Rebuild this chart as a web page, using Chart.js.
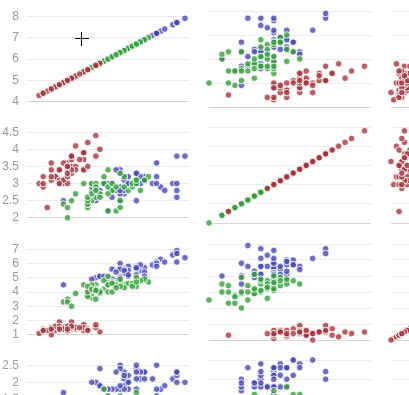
<!DOCTYPE html>
<html><head><meta charset="utf-8">
<script src="https://cdn.jsdelivr.net/npm/chart.js@4.4.1/dist/chart.umd.min.js"></script>
<style>
html,body{margin:0;padding:0;background:#fff;overflow:hidden;width:409px;height:395px;position:relative}
canvas{position:absolute}
.cur{position:absolute;background:#000}
</style></head><body>
<script>
// Iris measurements, by species
const setosaSepalLength=[5.1,4.9,4.7,4.6,5.0,5.4,4.6,5.0,4.4,4.9,5.4,4.8,4.8,4.3,5.8,5.7,5.4,5.1,5.7,5.1,5.4,5.1,4.6,5.1,4.8,5.0,5.0,5.2,5.2,4.7,4.8,5.4,5.2,5.5,4.9,5.0,5.5,4.9,4.4,5.1,5.0,4.5,4.4,5.0,5.1,4.8,5.1,4.6,5.3,5.0];
const setosaSepalWidth=[3.5,3.0,3.2,3.1,3.6,3.9,3.4,3.4,2.9,3.1,3.7,3.4,3.0,3.0,4.0,4.4,3.9,3.5,3.8,3.8,3.4,3.7,3.6,3.3,3.4,3.0,3.4,3.5,3.4,3.2,3.1,3.4,4.1,4.2,3.1,3.2,3.5,3.6,3.0,3.4,3.5,2.3,3.2,3.5,3.8,3.0,3.8,3.2,3.7,3.3];
const setosaPetalLength=[1.4,1.4,1.3,1.5,1.4,1.7,1.4,1.5,1.4,1.5,1.5,1.6,1.4,1.1,1.2,1.5,1.3,1.4,1.7,1.5,1.7,1.5,1.0,1.7,1.9,1.6,1.6,1.5,1.4,1.6,1.6,1.5,1.5,1.4,1.5,1.2,1.3,1.4,1.3,1.5,1.3,1.3,1.3,1.6,1.9,1.4,1.6,1.4,1.5,1.4];
const setosaPetalWidth=[0.2,0.2,0.2,0.2,0.2,0.4,0.3,0.2,0.2,0.1,0.2,0.2,0.1,0.1,0.2,0.4,0.4,0.3,0.3,0.3,0.2,0.4,0.2,0.5,0.2,0.2,0.4,0.2,0.2,0.2,0.2,0.4,0.1,0.2,0.2,0.2,0.2,0.1,0.2,0.2,0.3,0.3,0.2,0.6,0.4,0.3,0.2,0.2,0.2,0.2];
const versicolorSepalLength=[7.0,6.4,6.9,5.5,6.5,5.7,6.3,4.9,6.6,5.2,5.0,5.9,6.0,6.1,5.6,6.7,5.6,5.8,6.2,5.6,5.9,6.1,6.3,6.1,6.4,6.6,6.8,6.7,6.0,5.7,5.5,5.5,5.8,6.0,5.4,6.0,6.7,6.3,5.6,5.5,5.5,6.1,5.8,5.0,5.6,5.7,5.7,6.2,5.1,5.7];
const versicolorSepalWidth=[3.2,3.2,3.1,2.3,2.8,2.8,3.3,2.4,2.9,2.7,2.0,3.0,2.2,2.9,2.9,3.1,3.0,2.7,2.2,2.5,3.2,2.8,2.5,2.8,2.9,3.0,2.8,3.0,2.9,2.6,2.4,2.4,2.7,2.7,3.0,3.4,3.1,2.3,3.0,2.5,2.6,3.0,2.6,2.3,2.7,3.0,2.9,2.9,2.5,2.8];
const versicolorPetalLength=[4.7,4.5,4.9,4.0,4.6,4.5,4.7,3.3,4.6,3.9,3.5,4.2,4.0,4.7,3.6,4.4,4.5,4.1,4.5,3.9,4.8,4.0,4.9,4.7,4.3,4.4,4.8,5.0,4.5,3.5,3.8,3.7,3.9,5.1,4.5,4.5,4.7,4.4,4.1,4.0,4.4,4.6,4.0,3.3,4.2,4.2,4.2,4.3,3.0,4.1];
const versicolorPetalWidth=[1.4,1.5,1.5,1.3,1.5,1.3,1.6,1.0,1.3,1.4,1.0,1.5,1.0,1.4,1.3,1.4,1.5,1.0,1.5,1.1,1.8,1.3,1.5,1.2,1.3,1.4,1.4,1.7,1.5,1.0,1.1,1.0,1.2,1.6,1.5,1.6,1.5,1.3,1.3,1.3,1.2,1.4,1.2,1.0,1.3,1.2,1.3,1.3,1.1,1.3];
const virginicaSepalLength=[6.3,5.8,7.1,6.3,6.5,7.6,4.9,7.3,6.7,7.2,6.5,6.4,6.8,5.7,5.8,6.4,6.5,7.7,7.7,6.0,6.9,5.6,7.7,6.3,6.7,7.2,6.2,6.1,6.4,7.2,7.4,7.9,6.4,6.3,6.1,7.7,6.3,6.4,6.0,6.9,6.7,6.9,5.8,6.8,6.7,6.7,6.3,6.5,6.2,5.9];
const virginicaSepalWidth=[3.3,2.7,3.0,2.9,3.0,3.0,2.5,2.9,2.5,3.6,3.2,2.7,3.0,2.5,2.8,3.2,3.0,3.8,2.6,2.2,3.2,2.8,2.8,2.7,3.3,3.2,2.8,3.0,2.8,3.0,2.8,3.8,2.8,2.8,2.6,3.0,3.4,3.1,3.0,3.1,3.1,3.1,2.7,3.2,3.3,3.0,2.5,3.0,3.4,3.0];
const virginicaPetalLength=[6.0,5.1,5.9,5.6,5.8,6.6,4.5,6.3,5.8,6.1,5.1,5.3,5.5,5.0,5.1,5.3,5.5,6.7,6.9,5.0,5.7,4.9,6.7,4.9,5.7,6.0,4.8,4.9,5.6,5.8,6.1,6.4,5.6,5.1,5.6,6.1,5.6,5.5,4.8,5.4,5.6,5.1,5.1,5.9,5.7,5.2,5.0,5.2,5.4,5.1];
const virginicaPetalWidth=[2.5,1.9,2.1,1.8,2.2,2.1,1.7,1.8,1.8,2.5,2.0,1.9,2.1,2.0,2.4,2.3,1.8,2.2,2.3,1.5,2.3,2.0,2.0,1.8,2.1,1.8,1.8,1.8,2.1,1.6,1.9,2.0,2.2,1.5,1.4,2.3,2.4,1.8,1.8,2.1,2.4,2.3,1.9,2.3,2.5,2.3,1.9,2.0,2.3,1.8];

const speciesNames=["setosa","versicolor","virginica"];
const variableNames=["sepal length","sepal width","petal length","petal width"];
// nice axis domains and tick steps per variable
const axisMin=[4,2,1,0];
const axisMax=[8,4.5,7,2.5];
const axisStep=[1,0.5,1,0.5];

const speciesData=[
  [setosaSepalLength,setosaSepalWidth,setosaPetalLength,setosaPetalWidth],
  [versicolorSepalLength,versicolorSepalWidth,versicolorPetalLength,versicolorPetalWidth],
  [virginicaSepalLength,virginicaSepalWidth,virginicaPetalLength,virginicaPetalWidth]
];
const speciesColors=['rgba(170,50,60,0.8)','rgba(50,160,55,0.8)','rgba(70,70,185,0.8)'];

// layout
const colLeft=[27,209,391], cellW=162;
const rowTop=[11,127,244,360], cellH=96;
const M=10;

function makeCell(row,col){
  const cv=document.createElement('canvas');
  const leftPad = col===0 ? 0 : M;
  const x0 = col===0 ? 0 : colLeft[col]-M;
  const w = (col===0 ? colLeft[0] : M) + cellW + M;
  const h = M + cellH + M;
  cv.width=w; cv.height=h;
  cv.style.left=x0+'px'; cv.style.top=(rowTop[row]-M)+'px';
  cv.style.width=w+'px'; cv.style.height=h+'px';
  document.body.appendChild(cv);
  const datasets=speciesData.map((d,s)=>({
    label:speciesNames[s],
    data:d[col].map((v,i)=>({x:v,y:d[row][i]})),
    backgroundColor:speciesColors[s],
    borderColor:'rgba(255,255,255,0.9)',
    borderWidth:1,
    pointRadius:3.3,
    clip:false
  }));
  const yMin=axisMin[row];
  new Chart(cv,{
    type:'scatter',
    data:{datasets},
    options:{
      responsive:false, animation:false, devicePixelRatio:1, events:[],
      layout:{padding:{left:leftPad,right:M,top:M,bottom:M}},
      plugins:{legend:{display:false},tooltip:{enabled:false}},
      scales:{
        x:{display:false,min:axisMin[col],max:axisMax[col]},
        y:{
          min:axisMin[row],max:axisMax[row],
          border:{display:false},
          grid:{drawTicks:false,lineWidth:1,
            color:(c)=> (c.tick && Math.abs(c.tick.value-yMin)<1e-9) ? '#d6d6d6' : '#ececec'},
          ticks:{display:col===0,stepSize:axisStep[row],padding:8,color:'#999',autoSkip:false,
            callback:(v)=>String(Math.round(v*100)/100),
            font:{family:'"Liberation Sans", Arial, sans-serif',size:12}},
          afterFit:(s)=>{ s.width = col===0 ? colLeft[0] : 0; }
        }
      }
    }
  });
}
for(let r=0;r<4;r++) for(let c=0;c<3;c++) makeCell(r,c);
</script>
<div class="cur" style="left:75px;top:38px;width:14px;height:1px"></div>
<div class="cur" style="left:81px;top:32px;width:1px;height:14px"></div>
</body></html>
